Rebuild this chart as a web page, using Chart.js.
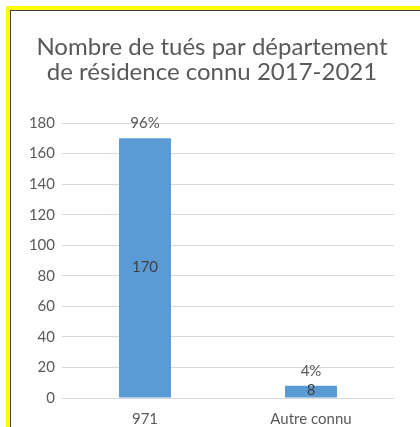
<!DOCTYPE html>
<html><head><meta charset="utf-8">
<script src="https://cdn.jsdelivr.net/npm/chart.js@4"></script>
<style>
html,body{margin:0;padding:0;background:#fff;width:420px;height:427px;overflow:hidden}
#frameY{position:absolute;left:6px;top:6px;width:420px;height:427px;border-left:4px solid #ffff00;border-top:4px solid #ffff00}
#frameD{position:absolute;left:10px;top:10px;width:420px;height:427px;border-left:1px solid #404040;border-top:1px solid #404040}
#c{position:absolute;left:0;top:0}
</style></head>
<body>
<div id="frameY"></div>
<div id="frameD"></div>
<canvas id="c" width="420" height="427"></canvas>
<script>
const titleLines = ['Nombre de tués par département', 'de résidence connu 2017-2021'];
const categories = ['971', 'Autre connu'];
const killed = [170, 8];
const yMin = 0, yMax = 180, yStep = 20;

const labelPlugin = {
  id: 'barLabels',
  afterDatasetsDraw(chart) {
    const ctx = chart.ctx;
    const meta = chart.getDatasetMeta(0);
    const total = killed.reduce((a, b) => a + b, 0);
    ctx.save();
    ctx.font = '15px Lato';
    ctx.textAlign = 'center';
    ctx.textBaseline = 'middle';
    meta.data.forEach((bar, i) => {
      const v = killed[i];
      ctx.fillStyle = '#595959';
      ctx.fillText(Math.round(v / total * 100) + '%', bar.x, bar.y - 15);
      ctx.fillStyle = '#404040';
      ctx.fillText(String(v), bar.x, (bar.y + bar.base) / 2 - 1);
    });
    ctx.restore();
  }
};

new Chart(document.getElementById('c'), {
  type: 'bar',
  data: {
    labels: categories,
    datasets: [{
      data: killed,
      backgroundColor: '#5B9BD5',
      barPercentage: 0.313,
      categoryPercentage: 1
    }]
  },
  options: {
    responsive: false,
    devicePixelRatio: 1,
    animation: false,
    layout: { padding: { left: 30, right: 26, top: 0, bottom: 0 } },
    plugins: {
      legend: { display: false },
      tooltip: { enabled: false },
      title: {
        display: true,
        text: titleLines,
        color: '#595959',
        font: { family: 'Lato', size: 24, weight: 'normal', lineHeight: '25px' },
        padding: { top: 34.5, bottom: 38.5 }
      }
    },
    scales: {
      x: {
        grid: { display: false },
        border: { display: false },
        ticks: { color: '#595959', font: { family: 'Lato', size: 15 }, padding: 4 },
        afterFit(s) { s.height = 29; }
      },
      y: {
        min: yMin, max: yMax,
        ticks: { stepSize: yStep, color: '#595959', font: { family: 'Lato', size: 15 }, padding: 7 },
        grid: { color: '#d9d9d9', drawTicks: false },
        border: { display: false },
        afterFit(s) { s.width = 32; }
      }
    }
  },
  plugins: [labelPlugin]
});
</script>
</body></html>
